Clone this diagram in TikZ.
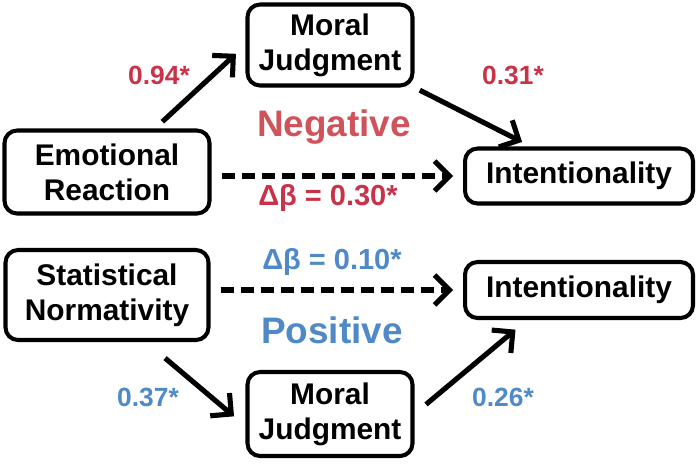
\documentclass[tikz,border=0pt]{standalone}
\usepackage{fontspec}
\setmainfont{Liberation Sans}
\usetikzlibrary{positioning,arrows.meta,shadows}
\definecolor{mRed}{HTML}{C8334A}
\definecolor{mRose}{HTML}{D0535C}
\definecolor{mBlue}{HTML}{5089C7}

\begin{document}
\begin{tikzpicture}[x=0.02cm,y=-0.02cm,
  varbox/.style={draw,line width=2.3pt,rounded corners=0.25cm,fill=white,
    align=center,inner sep=0pt,font=\fontsize{17}{20}\selectfont\bfseries,
    drop shadow={shadow xshift=0.8pt,shadow yshift=-1pt,opacity=0.25}},
  effect/.style={line width=2.9pt,-{Straight Barb[length=8.5pt,width=17pt]}},
  total/.style={effect,dash pattern=on 7.4pt off 4pt},
  coef/.style={font=\fontsize{15}{17}\selectfont\bfseries},
  delta/.style={font=\fontsize{16.5}{19}\selectfont\bfseries},
  valence/.style={font=\fontsize{21}{24}\selectfont\bfseries}
]
\useasboundingbox (0,0) rectangle (700,471);

% negative condition
\node[varbox,minimum width=3.3cm,minimum height=1.62cm] (mjn) at (330,45) {Moral\\Judgment};
\node[varbox,minimum width=4.1cm,minimum height=1.66cm] (er) at (107,172) {Emotional\\Reaction};
\node[varbox,minimum width=4.56cm,minimum height=1.1cm] (itn) at (579,176) {Intentionality};

\draw[effect,shorten <=0.2cm,shorten >=0.26cm] ([xshift=0.96cm]er.north) -- (mjn.west);
\draw[effect,shorten <=0.12cm,shorten >=0.2cm] (mjn.south east) -- ([xshift=-0.96cm]itn.north);
\draw[total,shorten <=0.2cm,shorten >=0.2cm] (er.east |- itn.west) -- (itn.west);

\node[coef,text=mRed] (bn1) at (159,75) {0.94*};
\node[coef,text=mRed] (bn2) at (513,75) {0.31*};
\node[valence,text=mRose] (neg) at (334,127) {Negative};
\node[delta,text=mRed] (dn) at (328,198) {Δβ = 0.30*};

% positive condition
\node[varbox,minimum width=4.06cm,minimum height=1.8cm] (sn) at (107,295) {Statistical\\Normativity};
\node[varbox,minimum width=4.56cm,minimum height=1.12cm] (itp) at (579,290) {Intentionality};
\node[varbox,minimum width=3.3cm,minimum height=1.68cm] (mjp) at (330,414) {Moral\\Judgment};

\draw[effect,shorten <=0.5cm,shorten >=0.3cm] ([xshift=0.78cm]sn.south) -- ([yshift=-0.24cm]mjp.west);
\draw[effect,shorten <=0.3cm,shorten >=0.3cm] (mjp.east) -- ([xshift=-1.04cm]itp.south);
\draw[total,shorten <=0.2cm,shorten >=0.2cm] (sn.east |- itp.west) -- (itp.west);

\node[delta,text=mBlue] (dp) at (332,262) {Δβ = 0.10*};
\node[valence,text=mBlue] (pos) at (332,330) {Positive};
\node[coef,text=mBlue] (bp1) at (148,397) {0.37*};
\node[coef,text=mBlue] (bp2) at (503,397) {0.26*};
\end{tikzpicture}
\end{document}
